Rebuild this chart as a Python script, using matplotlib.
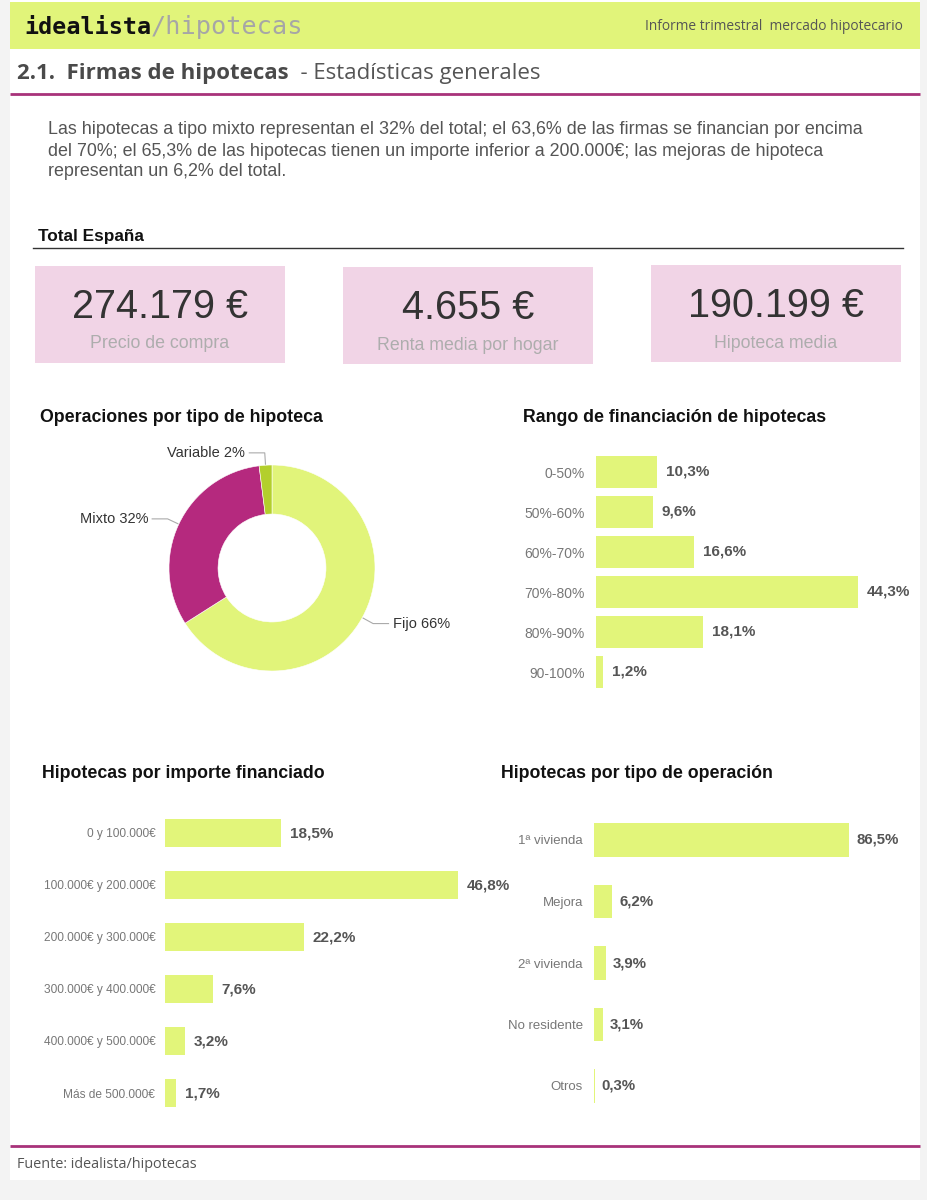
import matplotlib
matplotlib.use("Agg")
import matplotlib.pyplot as plt
from matplotlib.patches import Rectangle
import numpy as np

# ---------------- data ----------------
kpi_values = ["274.179 €", "4.655 €", "190.199 €"]
kpi_labels = ["Precio de compra", "Renta media por hogar", "Hipoteca media"]

pie_labels = ["Fijo", "Mixto", "Variable"]
pie_values = [66, 32, 2]

rango_cats = ["0-50%", "50%-60%", "60%-70%", "70%-80%", "80%-90%", "90-100%"]
rango_vals = [10.3, 9.6, 16.6, 44.3, 18.1, 1.2]

importe_cats = ["0 y 100.000€", "100.000€ y 200.000€", "200.000€ y 300.000€",
                "300.000€ y 400.000€", "400.000€ y 500.000€", "Más de 500.000€"]
importe_vals = [18.5, 46.8, 22.2, 7.6, 3.2, 1.7]

oper_cats = ["1ª vivienda", "Mejora", "2ª vivienda", "No residente", "Otros"]
oper_vals = [86.5, 6.2, 3.9, 3.1, 0.3]

paragraph = [
    "Las hipotecas a tipo mixto representan el 32% del total; el 63,6% de las firmas se financian por encima",
    "del 70%; el 65,3% de las hipotecas tienen un importe inferior a 200.000€; las mejoras de hipoteca",
    "representan un 6,2% del total.",
]

# ---------------- styles ----------------
W, H = 927, 1200
GREEN = "#e1f47a"
BAR = "#e2f57a"
MAGENTA = "#b5297e"
VARGREEN = "#b3cf2c"
PINK = "#f1d4e6"
ARIAL = ["Liberation Sans", "DejaVu Sans"]
SEGOE = ["Open Sans", "DejaVu Sans"]

fig = plt.figure(figsize=(W / 100, H / 100), dpi=100, facecolor="#f3f3f3")

# background axes in pixel coordinates (y downward)
bg = fig.add_axes([0, 0, 1, 1])
bg.set_xlim(0, W)
bg.set_ylim(H, 0)
bg.axis("off")

def px_axes(x0, ytop, w, h):
    return fig.add_axes([x0 / W, 1 - (ytop + h) / H, w / W, h / H])

# page
bg.add_patch(Rectangle((10, 0), 910, 1180, facecolor="white", edgecolor="none"))
# header band
bg.add_patch(Rectangle((10, 2), 910, 47, facecolor=GREEN, edgecolor="none"))
t_logo = bg.text(24, 27, "idealista", fontsize=16.8, fontweight="bold",
                 family=["DejaVu Sans Mono"], color="#111111", va="center", ha="left")
bg.annotate("/hipotecas", xy=(1, 0.5), xycoords=t_logo, xytext=(0, 0),
            textcoords="offset points", fontsize=18.2, family=["DejaVu Sans Mono"],
            color="#a6a6a6", va="center", ha="left")
bg.text(903, 27, "Informe trimestral  mercado hipotecario", fontsize=9.9,
        family=SEGOE, color="#555555", va="center", ha="right")

# title
t_title = bg.text(17, 74, "2.1.  Firmas de hipotecas", fontsize=16, fontweight="bold",
                  family=SEGOE, color="#4a4a4a", va="center", ha="left")
bg.annotate("  - Estadísticas generales", xy=(1, 0.5), xycoords=t_title, xytext=(0, 0),
            textcoords="offset points", fontsize=16, family=SEGOE,
            color="#555555", va="center", ha="left")
bg.plot([10, 920], [93.5, 93.5], color="#a8327a", lw=2, solid_capstyle="butt")

# paragraph
for i, line in enumerate(paragraph):
    bg.text(48, 130 + 21 * i, line, fontsize=12.9, family=ARIAL, color="#555555",
            va="center", ha="left")

# Total España
bg.text(38, 236, "Total España", fontsize=12.4, fontweight="bold", family=ARIAL,
        color="#111111", va="center", ha="left")
bg.plot([33, 903], [248, 248], color="#333333", lw=1)

# KPI boxes
box_x = [35, 343, 651]
box_y = [266, 267, 265]
for bx, by, val, lab in zip(box_x, box_y, kpi_values, kpi_labels):
    bg.add_patch(Rectangle((bx, by), 250, 97, facecolor=PINK, edgecolor="none"))
    bg.text(bx + 125, by + 41, val, fontsize=28.5, family=ARIAL, color="#333333",
            va="center", ha="center")
    bg.text(bx + 125, by + 78, lab, fontsize=12.8, family=ARIAL, color="#adadad",
            va="center", ha="center")

# section titles
for x, y, s in [(40, 417, "Operaciones por tipo de hipoteca"),
                (523, 417, "Rango de financiación de hipotecas"),
                (42, 774, "Hipotecas por importe financiado"),
                (501, 774, "Hipotecas por tipo de operación")]:
    bg.text(x, y, s, fontsize=12.8, fontweight="bold", family=ARIAL, color="#111111",
            va="center", ha="left")

# footer
bg.plot([10, 920], [1146, 1146], color="#a8327a", lw=2, solid_capstyle="butt")
bg.text(17, 1165, "Fuente: idealista/hipotecas", fontsize=10.4, family=SEGOE,
        color="#555555", va="center", ha="left")

# ---------------- donut ----------------
R_PX = 103
axp = px_axes(112, 408, 320, 320)
wedges, _ = axp.pie(pie_values, colors=[GREEN, MAGENTA, VARGREEN], startangle=90,
                    counterclock=False, radius=1.0,
                    wedgeprops=dict(width=0.476, edgecolor="white", linewidth=0.4))
lim = 160 / R_PX
axp.set_xlim(-lim, lim)
axp.set_ylim(-lim, lim)
axp.set_aspect("equal")
axp.axis("off")
for w, lab, v in zip(wedges, pie_labels, pie_values):
    ang = np.deg2rad((w.theta1 + w.theta2) / 2)
    x0, y0 = 1.01 * np.cos(ang), 1.01 * np.sin(ang)
    x1, y1 = 1.12 * np.cos(ang), 1.12 * np.sin(ang)
    side = 1 if np.cos(ang) > 0 else -1
    x2 = x1 + side * 0.15
    axp.plot([x0, x1, x2], [y0, y1, y1], color="#aaaaaa", lw=0.8)
    axp.text(x2 + side * 0.04, y1, f"{lab} {v}%", fontsize=10.5, family=ARIAL,
             color="#333333", va="center", ha="left" if side > 0 else "right")

# ---------------- bar charts ----------------
def hbar(ax, cats, vals, height, xmax, tick_fs, val_fs, pad, off):
    y = np.arange(len(cats))
    ax.barh(y, vals, height=height, color=BAR, edgecolor="none")
    ax.set_xlim(0, xmax)
    ax.set_ylim(len(cats) - 0.5, -0.5)
    ax.set_yticks(y)
    ax.set_yticklabels(cats, fontsize=tick_fs, family=ARIAL, color="#777777")
    ax.tick_params(axis="y", length=0, pad=pad)
    ax.set_xticks([])
    for s in ax.spines.values():
        s.set_visible(False)
    ax.patch.set_alpha(0)
    for yi, v in zip(y, vals):
        ax.annotate(f"{v:.1f}".replace(".", ",") + "%", xy=(v, yi), xytext=(off, 0),
                    textcoords="offset points", fontsize=val_fs, fontweight="bold",
                    family=ARIAL, color="#555555", va="center", ha="left")

ax1 = px_axes(596, 452, 300, 240)
hbar(ax1, rango_cats, rango_vals, 0.78, 300 / 5.91, 10, 11, 8, 6.5)

ax2 = px_axes(165, 807, 320, 312)
hbar(ax2, importe_cats, importe_vals, 0.54, 320 / 6.26, 8.6, 11, 7, 6.5)

ax3 = px_axes(594, 809.25, 300, 307.5)
hbar(ax3, oper_cats, oper_vals, 0.54, 300 / 2.95, 9.5, 10.8, 8, 5)

fig.savefig("out.png", dpi=100, facecolor=fig.get_facecolor())
